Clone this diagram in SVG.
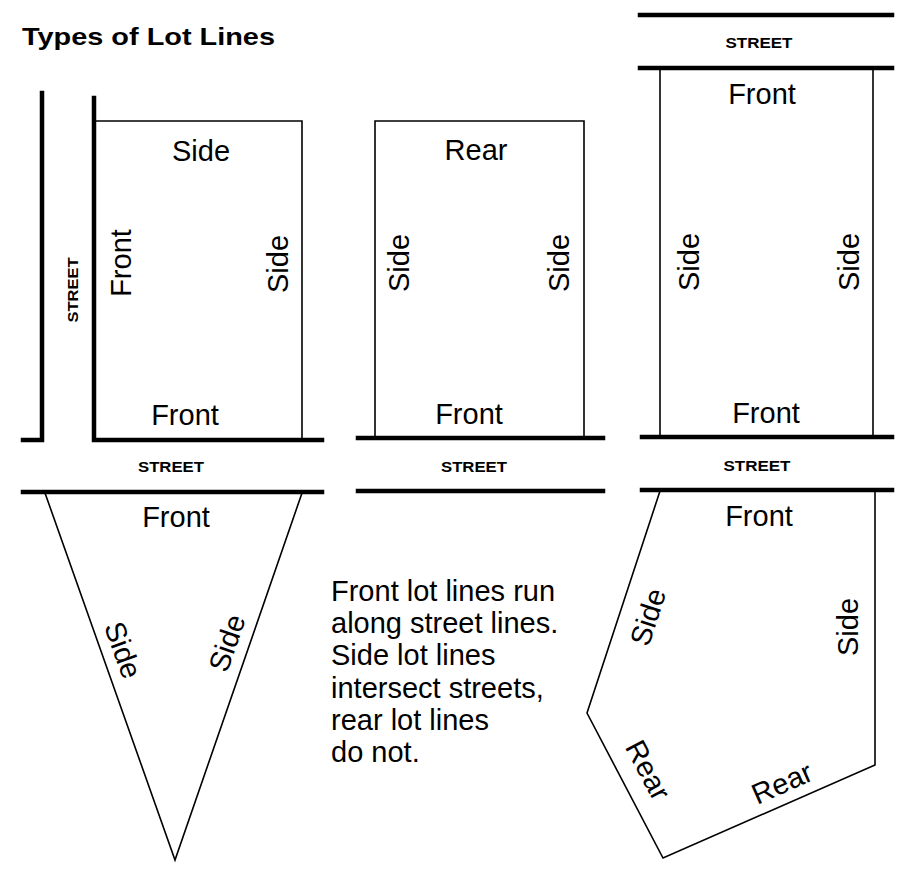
<svg xmlns="http://www.w3.org/2000/svg" width="906" height="870" viewBox="0 0 906 870">
<style>
.street{stroke:#000;stroke-width:4.5;fill:none;stroke-linecap:square}
.lot{stroke:#000;stroke-width:1.6;fill:none}
.lbl{font-family:"Liberation Sans",Arial,sans-serif;font-size:29px;fill:#000;text-anchor:middle}
.st{font-family:"Liberation Sans",Arial,sans-serif;font-size:15px;font-weight:bold;fill:#000;text-anchor:middle}
.para{font-family:"Liberation Sans",Arial,sans-serif;font-size:29px;fill:#000}
</style>
<rect width="906" height="870" fill="#fff"/>
<text x="22" y="45" font-family="Liberation Sans,Arial,sans-serif" font-size="24" font-weight="bold" textLength="253" lengthAdjust="spacingAndGlyphs">Types of Lot Lines</text>

<g id="streets">
<polyline class="street" points="42,93 42,440 23,440"/>
<polyline class="street" points="94,98 94,440 322,440"/>
<line class="street" x1="23" y1="492" x2="322" y2="492"/>
<line class="street" x1="358" y1="438" x2="603" y2="438"/>
<line class="street" x1="358" y1="491" x2="603" y2="491"/>
<line class="street" x1="640" y1="15" x2="892" y2="15"/>
<line class="street" x1="640" y1="68" x2="892" y2="68"/>
<line class="street" x1="642" y1="437" x2="892" y2="437"/>
<line class="street" x1="642" y1="490" x2="892" y2="490"/>
<text class="st" transform="translate(78,290) rotate(-90)" textLength="65" lengthAdjust="spacingAndGlyphs">STREET</text>
<text class="st" x="171" y="472" textLength="66" lengthAdjust="spacingAndGlyphs">STREET</text>
<text class="st" x="474" y="472" textLength="66" lengthAdjust="spacingAndGlyphs">STREET</text>
<text class="st" x="757" y="471" textLength="67" lengthAdjust="spacingAndGlyphs">STREET</text>
<text class="st" x="759" y="48" textLength="67" lengthAdjust="spacingAndGlyphs">STREET</text>
</g>

<g id="lot1">
<polyline class="lot" points="96,121 302,121 302,438"/>
<text class="lbl" x="201" y="161">Side</text>
<text class="lbl" transform="translate(131,263) rotate(-90)">Front</text>
<text class="lbl" transform="translate(288,264) rotate(-90)">Side</text>
<text class="lbl" x="185" y="425">Front</text>
</g>

<g id="lot2">
<polyline class="lot" points="375,437 375,121 584,121 584,437"/>
<text class="lbl" x="476" y="160">Rear</text>
<text class="lbl" transform="translate(409,263) rotate(-90)">Side</text>
<text class="lbl" transform="translate(569,263) rotate(-90)">Side</text>
<text class="lbl" x="469" y="424">Front</text>
</g>

<g id="lot3">
<line class="lot" x1="660" y1="68" x2="660" y2="437"/>
<line class="lot" x1="873" y1="68" x2="873" y2="437"/>
<text class="lbl" x="762" y="104">Front</text>
<text class="lbl" transform="translate(699,262) rotate(-90)">Side</text>
<text class="lbl" transform="translate(859,262) rotate(-90)">Side</text>
<text class="lbl" x="766" y="423">Front</text>
</g>

<g id="lot4">
<polyline class="lot" points="45,493 175,860 302,493"/>
<text class="lbl" x="176" y="527">Front</text>
<text class="lbl" transform="translate(123,650) rotate(70) translate(0,10)">Side</text>
<text class="lbl" transform="translate(227,643) rotate(-71) translate(0,10)">Side</text>
</g>

<g id="lot5">
<polyline class="lot" points="660,491 587,713 663,858 875,765 875,491"/>
<text class="lbl" x="759" y="526">Front</text>
<text class="lbl" transform="translate(648,617) rotate(-72) translate(0,10)">Side</text>
<text class="lbl" transform="translate(848,627) rotate(-90) translate(0,10)">Side</text>
<text class="lbl" transform="translate(648,770) rotate(62) translate(0,10)">Rear</text>
<text class="lbl" transform="translate(782,783) rotate(-24) translate(0,10)">Rear</text>
</g>

<g id="note">
<text class="para" x="331" y="601">Front lot lines run</text>
<text class="para" x="331" y="633">along street lines.</text>
<text class="para" x="331" y="665">Side lot lines</text>
<text class="para" x="331" y="698">intersect streets,</text>
<text class="para" x="331" y="730">rear lot lines</text>
<text class="para" x="331" y="762">do not.</text>
</g>
</svg>
